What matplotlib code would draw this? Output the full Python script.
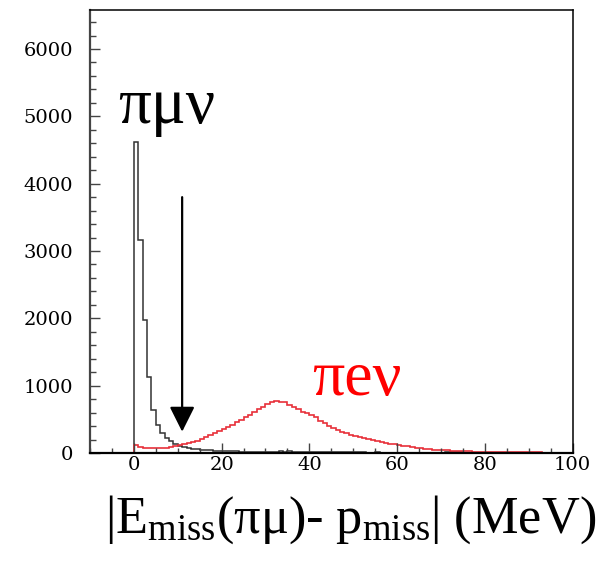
import numpy as np
import matplotlib
matplotlib.use("Agg")
import matplotlib.pyplot as plt
from matplotlib.ticker import MultipleLocator

plt.rcParams['mathtext.fontset'] = 'custom'
plt.rcParams['mathtext.rm'] = 'Liberation Serif'
plt.rcParams['mathtext.it'] = 'Liberation Serif:italic'

# histogram binning: 1 MeV bins from -10 to 100, entries only from 0 upward
edges = np.arange(-10, 101, 1)
n_empty = 10

# pi -> mu nu events per bin, 0..99 MeV
pimunu = [4620, 3170, 1980, 1130, 635, 410, 295, 225, 175, 135,
          110, 90, 72, 60, 52, 46, 42, 38, 35, 32,
          30, 28, 26, 24, 22, 20, 19, 18, 17, 16,
          15, 22, 18, 25, 20, 28, 22, 18, 15, 14,
          13, 12, 15, 12, 11, 10, 12, 10, 9, 9,
          8, 8, 9, 7, 7, 8, 6, 6, 7, 6,
          5, 5, 6, 5, 5, 4, 5, 4, 4, 5,
          4, 12, 15, 14, 10, 4, 3, 3, 4, 3,
          3, 3, 2, 3, 2, 2, 3, 2, 2, 2,
          2, 2, 1, 2, 1, 1, 2, 1, 1, 1]

# pi -> e nu events per bin, 0..99 MeV
pienu = [120, 95, 80, 75, 70, 70, 75, 80, 90, 100,
         115, 130, 150, 165, 185, 210, 240, 270, 300, 330,
         360, 390, 420, 455, 490, 530, 570, 610, 650, 690,
         730, 755, 765, 762, 755, 720, 680, 650, 610, 590,
         560, 530, 480, 440, 400, 370, 335, 305, 290, 270,
         250, 235, 220, 205, 190, 178, 165, 150, 140, 130,
         120, 110, 100, 90, 80, 72, 62, 55, 50, 45,
         40, 38, 35, 32, 30, 28, 25, 22, 20, 18,
         17, 16, 15, 14, 12, 12, 11, 10, 10, 9,
         9, 8, 8, 7, 7, 7, 6, 6, 6, 5]

black_vals = np.concatenate([np.zeros(n_empty), pimunu])
red_vals = np.concatenate([np.zeros(n_empty), pienu])

fig = plt.figure(figsize=(5.99, 5.63), dpi=100)
ax = fig.add_axes([0.1503, 0.1954, 0.8055, 0.7869])

ax.stairs(black_vals, edges, color='#333333', linewidth=1.1)
ax.stairs(red_vals, edges, color='#e8303a', linewidth=1.2)

ax.set_xlim(-10, 100)
ax.set_ylim(0, 6580)

# ROOT-like frame and inward ticks
for side in ['top', 'right']:
    ax.spines[side].set_linewidth(1.1)
    ax.spines[side].set_color('black')
ax.spines['left'].set_linewidth(1.6)
ax.spines['left'].set_color('#444444')
ax.spines['bottom'].set_linewidth(1.6)
ax.spines['bottom'].set_color('black')

ax.xaxis.set_major_locator(MultipleLocator(20))
ax.xaxis.set_minor_locator(MultipleLocator(5))
ax.yaxis.set_major_locator(MultipleLocator(1000))
ax.yaxis.set_minor_locator(MultipleLocator(200))
ax.tick_params(axis='both', which='both', direction='in', color='#444444',
               width=1.0, top=False, right=False)
ax.tick_params(axis='x', which='major', length=7.5, pad=2)
ax.tick_params(axis='x', which='minor', length=3.8)
ax.tick_params(axis='y', which='major', length=7.5, pad=12)
ax.tick_params(axis='y', which='minor', length=4)
for lab in ax.get_xticklabels() + ax.get_yticklabels():
    lab.set_fontfamily('DejaVu Serif')
    lab.set_fontsize(14)

# decay channel labels
ax.text(-3.6, 4900, 'πμν', fontsize=47, family='Liberation Serif',
        color='black', ha='left', va='baseline')
ax.text(40.6, 860, 'πeν', fontsize=46, family='Liberation Serif',
        color='#ff0000', ha='left', va='baseline')

# cut position
ax.annotate('', xy=(11, 316), xytext=(11, 3800),
            arrowprops=dict(arrowstyle='-|>,head_width=0.55,head_length=1.1',
                            color='black', lw=1.6, shrinkA=0, shrinkB=0,
                            mutation_scale=14))

fig.text(596 / 599, 1 - 533 / 563,
         r'$|\mathrm{E}_{\mathrm{miss}}(\mathrm{πμ})\mathrm{‐\ p}_{\mathrm{miss}}|\ \mathrm{(MeV)}$',
         fontsize=37.7, ha='right', va='baseline')

fig.savefig('out.png', dpi=100)
